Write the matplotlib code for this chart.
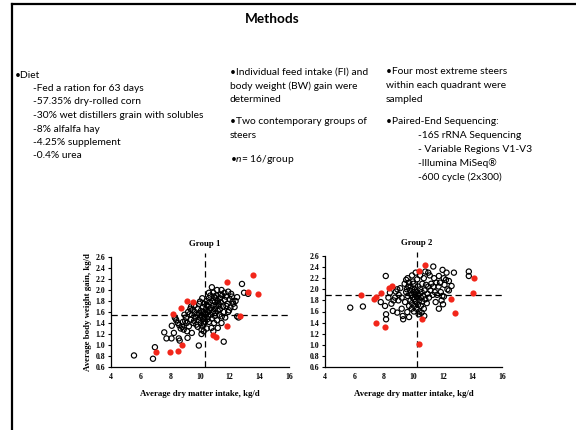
import matplotlib
matplotlib.use("Agg")
import matplotlib.pyplot as plt
from matplotlib.lines import Line2D

# ---------------- slide text ----------------
TITLE = "Methods"
DIET_HEAD = "•Diet"
DIET_LINES = [
    "-Fed a ration for 63 days",
    "-57.35% dry-rolled corn",
    "-30% wet distillers grain with solubles",
    "-8% alfalfa hay",
    "-4.25% supplement",
    "-0.4% urea",
]
MID_BLOCKS = [
    ["•Individual feed intake (FI) and", "body weight (BW) gain were", "determined"],
    ["•Two contemporary groups of", "steers"],
    ["•$n$= 16/group"],
]
RIGHT_HEAD = ["•Four most extreme steers", "within each quadrant were", "sampled"]
SEQ_HEAD = "•Paired-End Sequencing:"
SEQ_LINES = ["-16S rRNA Sequencing", "- Variable Regions V1-V3", "-Illumina MiSeq®", "-600 cycle (2x300)"]

# ---------------- scatter data ----------------
g1_open_x = [5.55, 6.83, 6.96, 7.59, 7.74, 8.08, 8.1, 8.24, 8.3, 8.4, 8.5, 8.57, 8.63, 8.8, 8.9, 9.0,
             9.13, 9.16, 9.25, 9.3, 9.4, 9.45, 9.5, 9.6, 9.7, 9.92, 10.0, 10.1, 10.1, 10.12, 10.2, 10.26,
             10.35, 10.45, 10.5, 10.6, 10.65, 10.77, 10.8, 10.9, 11.0, 11.06, 11.15, 11.2, 11.3, 11.4,
             11.47, 11.6, 11.67, 11.78, 11.9, 11.96, 12.1, 12.2, 12.33, 12.5, 12.5, 12.83, 12.97, 13.24,
             8.35, 8.6, 8.7, 8.85, 9.05, 9.2, 9.35, 9.45, 9.55, 9.6, 9.65, 9.75, 9.8, 9.85, 9.9, 9.95,
             9.95, 10.0, 10.05, 10.05, 10.1, 10.15, 10.15, 10.2, 10.25, 10.3, 10.3, 10.35, 10.4, 10.4,
             10.45, 10.5, 10.55, 10.55, 10.6, 10.65, 10.7, 10.7, 10.75, 10.8, 10.85, 10.85, 10.9, 10.95,
             10.95, 11.0, 11.0, 11.05, 11.1, 11.1, 11.15, 11.2, 11.2, 11.25, 11.3, 11.35, 11.35, 11.4,
             11.45, 11.5, 11.55, 11.6, 11.65, 11.7, 11.75, 11.85, 11.9, 12.0, 12.05, 12.15, 12.25, 12.4,
             12.6, 10.25, 10.45, 10.9, 9.85, 9.4, 9.1, 8.95, 10.6, 11.45]
g1_open_y = [0.81, 0.75, 0.96, 1.23, 1.12, 1.12, 1.35, 1.22, 1.5, 1.45, 1.4, 1.12, 1.08, 1.33, 1.28, 1.43,
             1.25, 1.13, 1.34, 1.56, 1.46, 1.22, 1.64, 1.44, 1.5, 0.99, 1.79, 1.28, 1.2, 1.52, 1.69, 1.39,
             1.58, 1.73, 1.47, 1.85, 1.64, 1.31, 2.05, 1.95, 1.53, 1.85, 2.0, 1.31, 1.72, 1.92,
             1.52, 1.06, 1.82, 1.71, 1.97, 1.63, 1.93, 1.79, 1.69, 1.87, 1.52, 2.11, 1.95, 1.93,
             1.48, 1.36, 1.3, 1.42, 1.5, 1.6, 1.66, 1.55, 1.4, 1.72, 1.6, 1.37, 1.55, 1.65, 1.45, 1.58,
             1.75, 1.5, 1.62, 1.4, 1.55, 1.35, 1.85, 1.47, 1.6, 1.75, 1.5, 1.42, 1.65, 1.55,
             1.8, 1.6, 1.52, 1.7, 1.42, 1.78, 1.55, 1.9, 1.67, 1.48, 1.6, 1.8, 1.72, 1.4,
             1.88, 1.65, 1.78, 1.58, 1.7, 1.9, 1.45, 1.8, 1.62, 1.75, 1.55, 1.85, 1.65, 1.78,
             1.4, 1.9, 1.7, 1.6, 1.95, 1.5, 1.88, 1.75, 1.6, 1.83, 1.68, 1.88, 1.75, 1.8,
             1.5, 1.25, 1.3, 1.25, 1.33, 1.7, 1.4, 1.55, 1.95, 2.0]
g1_red_x = [7.05, 7.95, 8.5, 8.8, 8.2, 8.7, 9.1, 9.5, 11.8, 13.6, 13.25, 13.9, 12.7, 11.8, 10.85, 11.1]
g1_red_y = [0.87, 0.87, 0.89, 1.0, 1.57, 1.68, 1.8, 1.78, 2.15, 2.28, 1.96, 1.92, 1.52, 1.34, 1.19, 1.15]

g2_open_x = [5.71, 6.57, 8.12, 7.78, 8.07, 8.14, 8.14, 8.3, 8.4, 8.5, 8.6, 8.75, 8.8, 8.9, 8.98, 9.1,
             9.2, 9.27, 9.3, 9.43, 9.5, 9.58, 9.65, 9.7, 9.8, 9.88, 9.95, 10.03, 10.73, 11.34, 11.97,
             11.72, 12.24, 12.74, 13.75, 13.75, 12.58, 12.3, 11.72, 11.5, 11.9, 12.0, 12.06, 12.2,
             9.4, 9.5, 9.55, 9.6, 9.7, 9.7, 9.75, 9.8, 9.85, 9.9, 9.9, 9.95, 10.0, 10.0, 10.05, 10.05,
             10.1, 10.1, 10.15, 10.2, 10.2, 10.25, 10.3, 10.3, 10.35, 10.4, 10.4, 10.45, 10.5, 10.5,
             10.55, 10.6, 10.6, 10.65, 10.7, 10.7, 10.75, 10.8, 10.85, 10.9, 10.95, 11.0, 11.05, 11.1,
             11.15, 11.2, 11.3, 11.35, 11.45, 11.55, 11.6, 11.7, 11.8, 11.85, 11.95, 12.05, 12.1, 12.4,
             12.4, 10.25, 10.45, 9.6, 9.9, 10.35, 10.55, 10.15, 9.0, 8.65, 8.9, 9.2, 11.0, 11.4, 10.8]
g2_open_y = [1.67, 1.69, 2.24, 1.77, 1.7, 1.55, 1.46, 1.85, 1.94, 1.74, 1.61, 1.85, 1.96, 1.58, 1.8, 2.02,
             1.65, 1.52, 1.46, 1.77, 2.17, 1.59, 2.05, 1.5, 1.8, 1.65, 2.14, 1.6, 1.52, 2.41, 2.35,
             2.24, 2.3, 2.3, 2.32, 2.24, 2.06, 2.0, 1.65, 1.77, 1.8, 1.73, 1.87, 2.17,
             2.1, 1.95, 2.0, 1.88, 2.12, 1.7, 1.98, 2.05, 1.9, 1.75, 2.0, 1.85, 1.95, 2.1, 1.7, 1.82,
             1.9, 2.0, 1.78, 1.65, 1.95, 1.85, 2.05, 1.72, 1.9, 1.8, 1.6, 2.0, 1.85, 1.7,
             1.95, 1.78, 2.1, 1.88, 2.2, 1.65, 1.98, 1.82, 2.08, 1.75, 1.92, 2.05, 1.85, 2.25,
             1.98, 2.1, 1.9, 2.05, 1.95, 2.12, 1.9, 2.05, 2.12, 1.95, 1.88, 2.2, 2.08, 2.15,
             1.98, 2.18, 2.25, 2.2, 2.25, 1.55, 1.58, 2.3, 1.9, 1.8, 2.0, 1.85, 2.3, 2.2, 2.32]
g2_red_x = [6.45, 7.29, 7.45, 7.78, 8.32, 8.55, 7.47, 8.1, 10.35, 10.76, 10.6, 10.37, 12.56, 12.83, 14.1, 14.0]
g2_red_y = [1.9, 1.82, 1.86, 1.93, 2.02, 2.06, 1.40, 1.32, 2.33, 2.44, 1.47, 1.02, 1.83, 1.57, 2.21, 1.93]

G1_CUT = (10.32, 1.55)
G2_CUT = (10.22, 1.895)

X_TICKS = [4, 6, 8, 10, 12, 14, 16]
Y_TICKS = [0.6, 0.8, 1.0, 1.2, 1.4, 1.6, 1.8, 2.0, 2.2, 2.4, 2.6]

RED = "#f2261a"
SANS = ["Lato", "DejaVu Sans"]
SERIF = ["Liberation Serif", "DejaVu Serif"]

plt.rcParams["mathtext.fontset"] = "custom"
plt.rcParams["mathtext.rm"] = "Lato"
plt.rcParams["mathtext.it"] = "Lato:italic"

fig = plt.figure(figsize=(5.76, 4.30), dpi=100)
W, H = 576.0, 430.0


def fx(px):
    return px / W


def fy(py):
    return 1 - py / H


# slide frame (left and top edge only)
fig.add_artist(Line2D([fx(12), fx(12)], [fy(3.5), 0], color="black", lw=1.6))
fig.add_artist(Line2D([fx(12), 1], [fy(3.5), fy(3.5)], color="black", lw=1.6))

TXT = dict(family=SANS, fontsize=7.4, va="center", ha="left")
fig.text(fx(272), fy(19), TITLE, family=SANS, fontsize=9.8, fontweight="bold", ha="center", va="center")

fig.text(fx(15), fy(75), DIET_HEAD, **TXT)
for i, s in enumerate(DIET_LINES):
    fig.text(fx(33), fy(88.5 + i * 13.5), s, **TXT)

mid_y = [[72, 86, 99.5], [122, 135.5], [159]]
for block, ys in zip(MID_BLOCKS, mid_y):
    for s, yy in zip(block, ys):
        fig.text(fx(230), fy(yy), s, **TXT)

for s, yy in zip(RIGHT_HEAD, [72, 86, 99.5]):
    fig.text(fx(386), fy(yy), s, **TXT)
fig.text(fx(386), fy(122), SEQ_HEAD, **TXT)
for i, s in enumerate(SEQ_LINES):
    fig.text(fx(418), fy(136 + i * 13.7), s, **TXT)


def scatter_panel(rect, ox, oy, rx, ry, cut, title, ylabel):
    ax = fig.add_axes(rect)
    ax.scatter(ox, oy, s=14, facecolors="none", edgecolors="black", linewidths=0.85, zorder=3)
    ax.scatter(rx, ry, s=20, color=RED, linewidths=0, zorder=4)
    ax.plot([4, 16], [cut[1], cut[1]], color="black", lw=0.9, dashes=(5, 3), zorder=2)
    ax.plot([cut[0], cut[0]], [0.6, 2.68], color="black", lw=0.9, dashes=(5, 3), zorder=2, clip_on=False)
    ax.text(cut[0], 2.76, title, family=SERIF, fontsize=6.3, fontweight="bold", ha="center", va="bottom")
    ax.set_xlim(4, 16)
    ax.set_ylim(0.6, 2.6)
    ax.set_xticks(X_TICKS)
    ax.set_yticks(Y_TICKS)
    ax.set_xticklabels([str(v) for v in X_TICKS])
    ax.set_yticklabels([f"{v:.1f}" for v in Y_TICKS])
    for lab in ax.get_xticklabels() + ax.get_yticklabels():
        lab.set_family(SERIF)
        lab.set_fontweight("bold")
        lab.set_fontsize(5.6)
    ax.tick_params(axis="y", direction="out", length=2.5, width=0.8, pad=1.5)
    ax.tick_params(axis="x", direction="out", length=0, pad=4)
    for side in ("top", "right"):
        ax.spines[side].set_visible(False)
    for side in ("left", "bottom"):
        ax.spines[side].set_linewidth(0.9)
    ax.set_xlabel("Average dry matter intake, kg/d", family=SERIF, fontsize=6.3, fontweight="bold", labelpad=7)
    if ylabel:
        ax.set_ylabel(ylabel, family=SERIF, fontsize=6.3, fontweight="bold", labelpad=3)
    return ax


scatter_panel([fx(111), fy(367), fx(289) - fx(111), fy(257) - fy(367)],
              g1_open_x, g1_open_y, g1_red_x, g1_red_y, G1_CUT, "Group 1",
              "Average body weight gain, kg/d")
scatter_panel([fx(325), fy(367), fx(502) - fx(325), fy(256) - fy(367)],
              g2_open_x, g2_open_y, g2_red_x, g2_red_y, G2_CUT, "Group 2", None)

fig.savefig("out.png", dpi=100)
